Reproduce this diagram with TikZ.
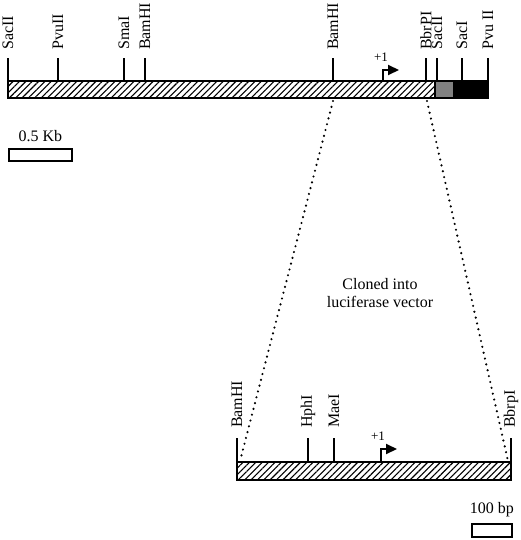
\documentclass[tikz,border=0pt]{standalone}
\usepackage{fontspec}
\setmainfont{Liberation Serif}
\usetikzlibrary{patterns, patterns.meta, arrows.meta, positioning, calc}

\begin{document}
\begin{tikzpicture}[
  x=1pt, y=-1pt,
  site/.style={rotate=90, anchor=west, inner sep=0pt,
    font=\fontsize{16}{18}\selectfont},
  cut/.style={line width=2pt},
  hatch/.style={draw, line width=2.4pt,
    pattern={Lines[angle=45, distance=4.5pt, line width=1.1pt]}},
  scalebox/.style={draw, line width=1.8pt},
  lbl/.style={font=\fontsize{16}{18}\selectfont, inner sep=0pt},
  start/.style={line width=2pt, -{Triangle[length=11pt, width=10pt]}},
  link/.style={line width=2.4pt, dash pattern=on 0pt off 6pt, line cap=round}
]
  \useasboundingbox (0,0) rectangle (520,540);

  % genomic map
  \draw[hatch] (8,81) rectangle (435,98);
  \draw[line width=2.4pt, pattern={Dots[distance=2pt, radius=0.8pt]}] (435,81) rectangle (454,98);
  \fill (454,79.8) rectangle (489,99.2);

  \foreach \x/\name/\txt in {8/sac1/SacII, 58/pvu1/PvuII, 124/sma/SmaI,
      145/bamA/BamHI, 333/bamB/BamHI, 426/bbr/BbrPI, 437/sac2/SacII,
      462/saci/SacI, 488/pvu2/Pvu II} {
    \draw[cut] (\x,81) -- (\x,58) coordinate (\name);
    \node[site] at ($(\name)+(0,-8)$) {\txt};
  }
  \coordinate (tss1) at (383,81);
  \coordinate (tip1) at (399,70);
  \draw[start] (tss1) |- (tip1);
  \node[font=\fontsize{13}{14}\selectfont, inner sep=0pt] (one1) at (381,57) {+1};

  % scale bar
  \node[scalebox, minimum width=63pt, minimum height=12pt, anchor=north west, inner sep=0pt] (kb) at (8,148) {};
  \node[lbl, above=6pt of kb] {0.5 Kb};

  % cloned fragment
  \draw[hatch] (237,462) rectangle (511,480);
  \foreach \x/\name/\txt in {237/bamC/BamHI, 308/hph/HphI, 334/mae/MaeI,
      511/bbrp/BbrpI} {
    \draw[cut] (\x,462) -- (\x,438) coordinate (\name);
    \node[site] at ($(\name)+(0,-10)$) {\txt};
  }
  \coordinate (tss2) at (381,462);
  \coordinate (tip2) at (397,449);
  \draw[start] (tss2) |- (tip2);
  \node[font=\fontsize{13}{14}\selectfont, inner sep=0pt] (one2) at (378,436) {+1};

  % dotted links
  \coordinate (l1) at (333,101);
  \coordinate (l2) at (240,461);
  \coordinate (r1) at (427,101);
  \coordinate (r2) at (508,461);
  \draw[link] (l1) -- (l2);
  \draw[link] (r1) -- (r2);

  \node[lbl, align=center, font=\fontsize{16}{18}\selectfont, anchor=base] (note) at (380,307)
    {Cloned into\\luciferase vector};

  % scale bar
  \node[scalebox, minimum width=40pt, minimum height=13pt, anchor=north west, inner sep=0pt] (bp) at (471,523) {};
  \node[lbl, above=6pt of bp] {100 bp};
\end{tikzpicture}
\end{document}
